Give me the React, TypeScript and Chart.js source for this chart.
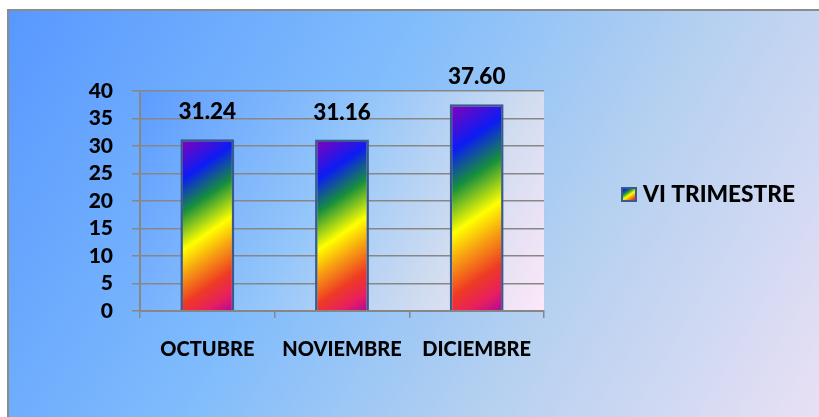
import React, { useEffect, useRef } from "react";
import { Chart, registerables } from "chart.js";

Chart.register(...registerables);

const categories = ["OCTUBRE", "NOVIEMBRE", "DICIEMBRE"];
const seriesName = "VI TRIMESTRE";
const seriesValues = [31.24, 31.16, 37.6];
const yMin = 0;
const yMax = 40;
const yStep = 5;

const FONT = "Lato, 'Liberation Sans', sans-serif";
const WEIGHT = "900";

const rainbowStops: [number, string][] = [
  [0, "#8a00b6"],
  [0.2, "#0c1cf4"],
  [0.36, "#178f3c"],
  [0.54, "#ffff00"],
  [0.66, "#f7a012"],
  [0.8, "#ee3a24"],
  [0.9, "#e8205c"],
  [1, "#b0089e"],
];

function rainbow(ctx: CanvasRenderingContext2D, L: number, T: number, w: number, h: number) {
  const dx = 0.565, dy = 0.825;
  const len = w * dx + h * dy;
  const g = ctx.createLinearGradient(L, T, L + dx * len, T + dy * len);
  rainbowStops.forEach(([o, c]) => g.addColorStop(o, c));
  return g;
}

const BAR_PCT = 0.4;

const bgPlugin = {
  id: "bgPlugin",
  beforeDraw(chart: any) {
    const { ctx, width, height, chartArea } = chart;
    ctx.save();
    ctx.fillStyle = "#ffffff";
    ctx.fillRect(0, 0, width, height);
    const g = ctx.createLinearGradient(8, 10, 880, 520);
    g.addColorStop(0, "#5898ff");
    g.addColorStop(0.35, "#80bcfc");
    g.addColorStop(0.6, "#b4d0f0");
    g.addColorStop(1, "#fbe6f6");
    ctx.fillStyle = g;
    ctx.fillRect(9, 11, width, height);
    ctx.strokeStyle = "#8c8c8c";
    ctx.lineWidth = 2;
    ctx.beginPath();
    ctx.moveTo(8, height + 5);
    ctx.lineTo(8, 10);
    ctx.lineTo(width + 5, 10);
    ctx.stroke();
    if (chartArea) {
      const { left, top, right, bottom } = chartArea;
      const pg = ctx.createLinearGradient(left, top, right, bottom);
      pg.addColorStop(0, "#5c9cff");
      pg.addColorStop(0.45, "#94c6fa");
      pg.addColorStop(0.75, "#d0dcf0");
      pg.addColorStop(1, "#fde8f8");
      ctx.fillStyle = pg;
      ctx.fillRect(left, top, right - left, bottom - top);
    }
    ctx.restore();
  },
};

const labelsPlugin = {
  id: "labelsPlugin",
  afterDatasetsDraw(chart: any) {
    const { ctx } = chart;
    const meta = chart.getDatasetMeta(0);
    ctx.save();
    ctx.font = `${WEIGHT} 22.5px ${FONT}`;
    ctx.fillStyle = "#000000";
    ctx.textAlign = "center";
    ctx.textBaseline = "middle";
    meta.data.forEach((el: any, i: number) => {
      ctx.fillText(seriesValues[i].toFixed(2), el.x, el.y - 27);
    });
    ctx.restore();
  },
};

const legendPlugin = {
  id: "legendPlugin",
  afterDraw(chart: any) {
    const { ctx } = chart;
    ctx.save();
    const bx = 621, by = 187, bw = 16, bh = 15;
    ctx.fillStyle = rainbow(ctx, bx, by, bw, bh);
    ctx.fillRect(bx, by, bw, bh);
    ctx.strokeStyle = "#3a5a8c";
    ctx.lineWidth = 2;
    ctx.strokeRect(bx + 1, by + 1, bw - 2, bh - 2);
    ctx.font = `${WEIGHT} 22.7px ${FONT}`;
    ctx.fillStyle = "#000000";
    ctx.textAlign = "left";
    ctx.textBaseline = "middle";
    ctx.fillText(chart.data.datasets[0].label, 643, 195);
    ctx.restore();
  },
};

export default function App() {
  const ref = useRef<HTMLCanvasElement | null>(null);
  useEffect(() => {
    if (!ref.current) return;
    const chart = new Chart(ref.current, {
      type: "bar",
      data: {
        labels: categories,
        datasets: [
          {
            label: seriesName,
            data: seriesValues,
            backgroundColor: (c: any) => {
              const chart = c.chart;
              const xs = chart.scales?.x;
              const ys = chart.scales?.y;
              if (!chart.chartArea || !xs || !ys || c.dataIndex === undefined) return "#f0f000";
              const cx = xs.getPixelForValue(c.dataIndex);
              const w = (xs.width / categories.length) * BAR_PCT;
              const top = ys.getPixelForValue(seriesValues[c.dataIndex]);
              const bottom = ys.getPixelForValue(0);
              return rainbow(chart.ctx, cx - w / 2, top, w, bottom - top);
            },
            borderColor: "#3a5a8c",
            borderWidth: 2.5,
            categoryPercentage: 1,
            barPercentage: BAR_PCT,
          },
        ],
      },
      options: {
        responsive: false,
        animation: false,
        devicePixelRatio: 1,
        layout: { padding: { left: 0, top: 91, right: 275, bottom: 0 } },
        plugins: {
          legend: { display: false },
          tooltip: { enabled: false },
          title: { display: false },
        },
        scales: {
          x: {
            afterFit: (s: any) => {
              s.height = 106;
            },
            grid: {
              display: true,
              drawOnChartArea: false,
              drawTicks: true,
              tickLength: 7,
              color: "#878787",
              lineWidth: 1.5,
            },
            border: { display: true, color: "#878787", width: 2 },
            ticks: {
              color: "#000000",
              padding: 20,
              font: { family: FONT, size: 20, weight: WEIGHT as any },
            },
          },
          y: {
            min: yMin,
            max: yMax,
            afterFit: (s: any) => {
              s.width = 140;
            },
            grid: {
              color: "#878787",
              lineWidth: 1.5,
              tickLength: 8,
            },
            border: { display: true, color: "#878787", width: 2 },
            ticks: {
              stepSize: yStep,
              autoSkip: false,
              color: "#000000",
              padding: 19,
              font: { family: FONT, size: 21, weight: WEIGHT as any, lineHeight: 1 },
            },
          },
        },
      },
      plugins: [bgPlugin, labelsPlugin, legendPlugin],
    });
    return () => chart.destroy();
  }, []);
  return (
    <div style={{ position: "fixed", left: 0, top: 0, width: 819, height: 417 }}>
      <canvas ref={ref} width={819} height={417} />
    </div>
  );
}
